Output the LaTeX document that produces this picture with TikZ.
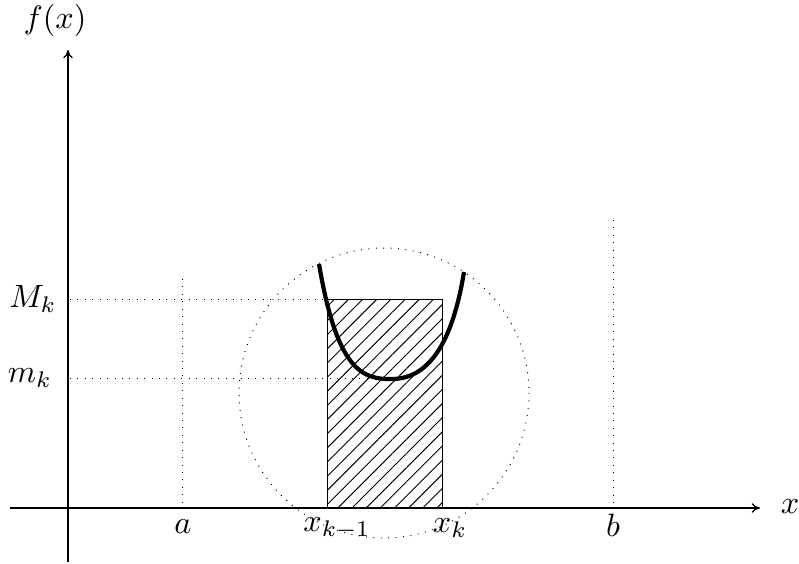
\documentclass[tikz,border=0pt]{standalone}
\usetikzlibrary{arrows.meta,patterns.meta}

\begin{document}
\begin{tikzpicture}[
    x=0.31pt,y=-0.31pt,
    every node/.style={font=\normalsize},
    eixo/.style={-{To[length=2.6pt,width=3pt]},thin},
    guia/.style={dotted,line width=0.3pt},
    curva/.style={line width=1.3pt},
    faixa/.style={draw,very thin,pattern={Lines[angle=45,distance=3.1pt,line width=0.3pt]}}
  ]
    \useasboundingbox (0,0) rectangle (799,563);
    % eixos
    \coordinate (xini) at (10,508);
    \coordinate (xfim) at (760,508);
    \coordinate (yini) at (68,562);
    \coordinate (yfim) at (68,50);
    \draw[eixo] (xini) -- (xfim);
    \draw[eixo] (yini) -- (yfim);
    \node (rotx) at (790,507) {$x$};
    \node (roty) at (55,20) {$f(x)$};

    % retangulo hachurado
    \draw[faixa] (327,508) rectangle (442,299);

    % linhas guia
    \coordinate (atopo) at (182,279);
    \coordinate (abase) at (182,508);
    \coordinate (btopo) at (613,220);
    \coordinate (bbase) at (613,508);
    \draw[guia] (atopo) -- (abase);
    \draw[guia] (btopo) -- (bbase);
    \draw[guia] (70,299) -- (327,299);
    \draw[guia] (70,378) -- (372,378);
    \draw[guia] (384,393) circle[radius=145];

    % curva
    \draw[curva] (319,264) .. controls (337,370) and (362,380) .. (393,379)
      .. controls (428,378) and (452,345) .. (464,272);

    % rotulos
    \node (a) at (183,527) {$a$};
    \node (b) at (613,525) {$b$};
    \node (xk1) at (337,528) {$x_{k-1}$};
    \node (xk) at (450,528) {$x_k$};
    \node (Mk) at (33,299) {$M_k$};
    \node (mk) at (30,378) {$m_k$};
\end{tikzpicture}
\end{document}
